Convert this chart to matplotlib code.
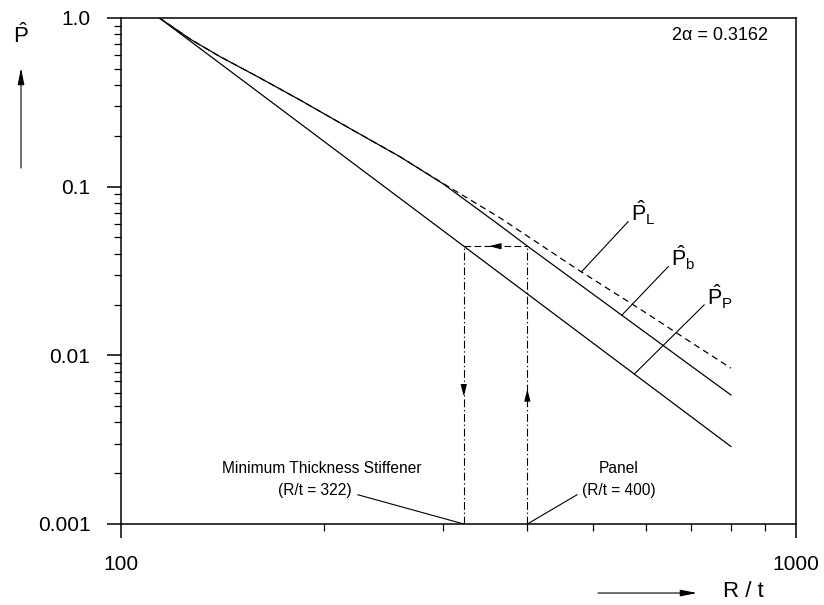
import numpy as np
import matplotlib
matplotlib.use('Agg')
import matplotlib.pyplot as plt
from matplotlib.ticker import FixedLocator, NullFormatter

plt.rcParams['font.family'] = ['Liberation Sans', 'DejaVu Sans']
plt.rcParams['mathtext.fontset'] = 'custom'
plt.rcParams['mathtext.rm'] = 'Liberation Sans'
plt.rcParams['mathtext.it'] = 'Liberation Sans'

# radius/thickness ratio and normalised buckling loads along each curve
rt_p = [114, 801]
p_p = [1.0, 0.00288]

rt_b = [114, 127, 140, 160, 184, 218, 259, 300, 364, 401, 500, 600, 700, 801]
p_b = [1.0, 0.744, 0.592, 0.445, 0.327, 0.222, 0.1505, 0.104, 0.059, 0.0441,
       0.0231, 0.01354, 0.00862, 0.00582]

rt_l = [114, 127, 140, 160, 184, 218, 259, 300, 364, 473, 600, 700, 801]
p_l = [1.0, 0.744, 0.592, 0.445, 0.327, 0.222, 0.1505, 0.1045, 0.0655, 0.0326,
       0.0178, 0.0119, 0.00839]

rt_stiffener = 322
rt_panel = 400
two_alpha = 0.3162

x_ticks = [100, 1000]
x_ticklabels = ['100', '1000']
y_ticks = [0.001, 0.01, 0.1, 1.0]
y_ticklabels = ['0.001', '0.01', '0.1', '1.0']


def on_curve(x, xs, ys):
    # read a curve at x (log-log interpolation)
    return 10 ** np.interp(np.log10(x), np.log10(xs), np.log10(ys))


fig = plt.figure(figsize=(8.24, 6.05), dpi=100)
ax = fig.add_axes([0.1468, 0.1339, 0.8192, 0.8364])
ax.set_xscale('log')
ax.set_yscale('log')
ax.set_xlim(100, 1000)
ax.set_ylim(0.001, 1.0)

lw = 0.9
ax.plot(rt_p, p_p, color='k', lw=lw)
ax.plot(rt_b, p_b, color='k', lw=lw)
ax.plot(rt_l, p_l, color='k', lw=lw, dashes=(5, 3.5))

# design path: stiffener and panel ratios at equal load
y_top = on_curve(rt_stiffener, rt_p, p_p)
dd = (7, 2.5, 1.2, 2.5)
ax.plot([rt_stiffener, rt_stiffener], [0.001, y_top], color='k', lw=0.8, dashes=dd)
ax.plot([rt_panel, rt_panel], [0.001, y_top], color='k', lw=0.8, dashes=dd)
ax.plot([rt_stiffener, rt_panel], [y_top, y_top], color='k', lw=0.8, dashes=(6, 3))

arr = dict(arrowstyle='-|>,head_length=0.7,head_width=0.18', color='k', lw=0.8,
           shrinkA=0, shrinkB=0)
ax.annotate('', xy=(rt_stiffener, 0.0057), xytext=(rt_stiffener, 0.0066), arrowprops=arr)
ax.annotate('', xy=(rt_panel, 0.0063), xytext=(rt_panel, 0.0055), arrowprops=arr)
ax.annotate('', xy=(351, y_top), xytext=(365, y_top), arrowprops=arr)

# curve labels with leader lines
labels = [
    (r'$\hat{\mathrm{P}}_{\mathrm{L}}$', 481, rt_l, p_l, (564, 0.062)),
    (r'$\hat{\mathrm{P}}_{\mathrm{b}}$', 552, rt_b, p_b, (647, 0.0336)),
    (r'$\hat{\mathrm{P}}_{\mathrm{P}}$', 576, rt_p, p_p, (731, 0.0199)),
]
for text, x0, xs, ys, (x1, y1) in labels:
    y0 = on_curve(x0, xs, ys)
    ax.plot([x0, x1], [y0, y1], color='k', lw=0.8)
    ax.annotate(text, xy=(x1, y1), xytext=(2, 0), textcoords='offset points',
                ha='left', va='baseline', fontsize=15.5)

ax.text(0.887, 0.966, '2\u03b1 = %.4f' % two_alpha, transform=ax.transAxes,
        ha='center', va='center', fontsize=13)

# call-outs for the two design points
fs = 11.2
ax.text(198.6, 0.00212, 'Minimum Thickness Stiffener', ha='center', va='center', fontsize=fs)
ax.text(193.5, 0.00159, '(R/t = %d)' % rt_stiffener, ha='center', va='center', fontsize=fs)
ax.plot([224.4, rt_stiffener], [0.00149, 0.001], color='k', lw=0.8)
ax.text(546, 0.00212, 'Panel', ha='center', va='center', fontsize=fs)
ax.text(546, 0.00159, '(R/t = %d)' % rt_panel, ha='center', va='center', fontsize=fs)
ax.plot([473.8, rt_panel], [0.00149, 0.001], color='k', lw=0.8)

# axes and ticks
ax.xaxis.set_major_locator(FixedLocator(x_ticks))
ax.xaxis.set_minor_locator(FixedLocator(range(200, 1000, 100)))
ax.set_xticklabels(x_ticklabels)
ax.xaxis.set_minor_formatter(NullFormatter())
ax.yaxis.set_major_locator(FixedLocator(y_ticks))
ax.yaxis.set_minor_locator(FixedLocator([k * 10.0 ** e for e in (-3, -2, -1) for k in range(2, 10)]))
ax.set_yticklabels(y_ticklabels)
ax.yaxis.set_minor_formatter(NullFormatter())
ax.tick_params(which='major', direction='out', length=10, width=1.1, pad=12,
               labelsize=15, top=False, right=False)
ax.tick_params(which='minor', direction='out', length=5, width=0.9, top=False, right=False)
for sp in ax.spines.values():
    sp.set_linewidth(1.1)

# axis names with arrows
fig.text(0.0249, 0.929, r'$\hat{\mathrm{P}}$', ha='center', va='baseline', fontsize=16)
fig_arr = dict(arrowstyle='-|>,head_length=1.0,head_width=0.2', color='k', lw=0.8,
               shrinkA=0, shrinkB=0)
ax.annotate('', xy=(0.0255, 0.8876), xytext=(0.0255, 0.7223), xycoords='figure fraction',
            textcoords='figure fraction', arrowprops=fig_arr)
ax.annotate('', xy=(0.8459, 0.0198), xytext=(0.7257, 0.0198), xycoords='figure fraction',
            textcoords='figure fraction', arrowprops=fig_arr)
fig.text(0.8774, 0.0215, 'R / t', ha='left', va='center', fontsize=16)

fig.savefig('out.png', dpi=100)
